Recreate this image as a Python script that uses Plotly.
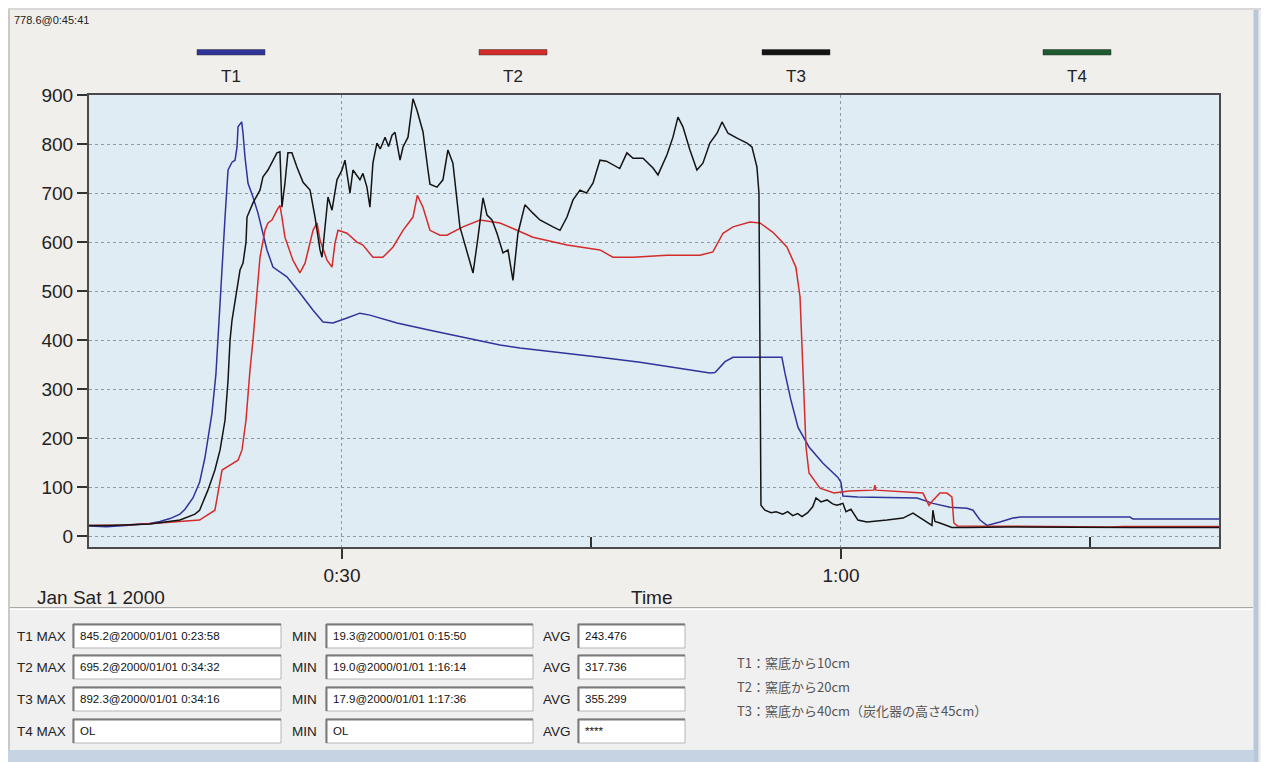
import plotly.graph_objects as go

# ---------------- data (time in minutes after 0:00, temperature) ----------------
T1_POINTS = [
    (14.79, 21), (15.83, 19.3), (17.00, 22), (18.46, 26), (19.06, 30), (19.66, 36),
    (20.26, 45), (20.56, 55), (21.04, 78), (21.44, 110), (21.76, 160), (22.04, 220),
    (22.18, 250), (22.42, 330), (22.54, 400), (22.79, 569), (22.97, 651), (23.15, 747),
    (23.39, 763), (23.57, 767), (23.69, 794), (23.75, 835), (23.97, 845.2), (24.05, 822),
    (24.17, 773), (24.35, 720), (24.65, 692), (24.95, 659), (25.19, 624), (25.49, 584),
    (25.85, 549), (26.69, 529), (27.47, 496), (28.26, 461), (28.86, 437), (29.46, 435),
    (30.30, 445), (31.08, 455), (31.68, 451), (33.31, 435), (35.29, 420), (37.27, 406),
    (38.30, 398), (39.50, 390), (40.70, 384), (43.11, 375), (45.51, 365), (47.92, 355),
    (50.32, 343), (51.52, 336), (52.12, 333), (52.43, 334), (52.85, 350), (53.03, 356),
    (53.51, 365), (56.45, 365), (56.63, 333), (56.99, 278), (57.42, 222), (58.08, 182),
    (58.92, 149), (59.82, 120), (60.00, 110), (60.06, 88), (60.12, 82), (61.00, 80),
    (64.57, 78), (65.53, 67), (66.55, 59), (67.58, 57), (67.94, 53), (68.36, 33),
    (68.78, 22), (69.56, 29), (70.34, 37), (70.76, 39), (77.38, 39), (77.56, 35),
    (82.73, 35),
]

T2_POINTS = [
    (14.79, 22), (17.00, 23), (19.00, 27), (20.26, 30), (21.44, 33), (22.36, 53),
    (22.79, 135), (23.27, 145), (23.75, 155), (23.99, 176), (24.23, 237), (24.47, 339),
    (24.65, 400), (25.07, 569), (25.37, 624), (25.55, 639), (25.79, 645), (26.09, 665),
    (26.27, 675), (26.39, 651), (26.57, 610), (27.05, 563), (27.47, 537), (27.78, 557),
    (28.26, 624), (28.50, 639), (28.68, 604), (29.10, 563), (29.40, 549), (29.58, 598),
    (29.76, 624), (30.30, 618), (30.90, 600), (31.26, 594), (31.86, 569), (32.46, 569),
    (33.07, 590), (33.67, 624), (34.27, 651), (34.53, 695.2), (34.87, 671), (35.29, 624),
    (35.89, 614), (36.31, 614), (37.27, 631), (38.30, 645), (39.50, 639), (40.52, 624),
    (41.48, 610), (43.53, 594), (45.51, 584), (46.29, 569), (47.50, 569), (49.54, 573),
    (51.52, 573), (52.30, 580), (52.91, 618), (53.51, 631), (54.53, 641), (55.13, 639),
    (55.91, 620), (56.75, 590), (57.29, 549), (57.54, 488), (57.72, 318), (57.90, 182),
    (58.08, 129), (58.74, 98), (59.58, 88), (60.50, 92), (61.98, 94), (62.04, 104),
    (62.10, 94), (64.63, 90), (64.93, 88), (65.29, 63), (65.50, 72), (65.95, 88),
    (66.37, 88), (66.67, 80), (66.79, 27), (67.00, 21), (70.00, 20), (76.23, 19.0),
    (77.00, 20), (82.73, 20),
]

T3_POINTS = [
    (14.79, 22), (16.00, 22), (18.46, 25), (20.26, 33), (21.16, 45), (21.44, 53),
    (21.94, 94), (22.36, 135), (22.67, 176), (22.97, 237), (23.15, 318), (23.27, 400),
    (23.39, 441), (23.69, 508), (23.87, 543), (24.05, 557), (24.23, 600), (24.29, 651),
    (24.65, 680), (25.07, 706), (25.25, 733), (25.55, 747), (26.09, 782), (26.27, 784),
    (26.39, 671), (26.57, 720), (26.75, 782), (26.99, 782), (27.29, 753), (27.66, 722),
    (28.08, 706), (28.38, 651), (28.68, 584), (28.80, 569), (28.98, 624), (29.16, 692),
    (29.40, 665), (29.70, 727), (30.00, 747), (30.18, 767), (30.30, 740), (30.48, 700),
    (30.66, 747), (31.08, 727), (31.26, 740), (31.50, 712), (31.68, 671), (31.86, 761),
    (32.10, 802), (32.30, 790), (32.59, 814), (32.80, 795), (33.01, 818), (33.19, 824),
    (33.49, 767), (33.67, 794), (33.97, 814), (34.27, 892.3), (34.51, 869), (34.87, 825),
    (35.17, 747), (35.29, 718), (35.71, 712), (36.07, 727), (36.37, 788), (36.67, 761),
    (37.09, 631), (37.52, 578), (37.88, 537), (38.18, 610), (38.48, 690), (38.72, 655),
    (39.02, 645), (39.32, 618), (39.68, 578), (39.98, 584), (40.28, 522), (40.58, 618),
    (41.00, 676), (41.48, 659), (41.90, 645), (42.69, 631), (43.11, 624), (43.53, 651),
    (43.89, 686), (44.31, 706), (44.70, 700), (45.09, 720), (45.51, 767), (45.90, 765),
    (46.29, 757), (46.70, 750), (47.13, 782), (47.50, 771), (48.10, 771), (48.70, 751),
    (49.00, 737), (49.54, 778), (49.90, 814), (50.20, 855), (50.50, 835), (50.92, 788),
    (51.34, 747), (51.70, 761), (52.12, 802), (52.55, 822), (52.85, 845), (53.21, 822),
    (53.75, 812), (54.35, 802), (54.65, 794), (54.95, 753), (55.07, 700), (55.13, 400),
    (55.19, 63), (55.43, 53), (55.80, 48), (56.10, 50), (56.50, 45), (56.80, 50),
    (57.10, 42), (57.40, 46), (57.66, 40), (58.00, 48), (58.30, 60), (58.50, 78),
    (58.80, 70), (59.16, 74), (59.50, 66), (59.76, 63), (60.12, 67), (60.30, 50),
    (60.60, 55), (61.02, 33), (61.56, 29), (62.77, 33), (63.73, 37), (64.33, 47),
    (65.17, 29), (65.47, 22), (65.53, 53), (65.65, 30), (65.95, 27), (66.67, 18),
    (67.58, 18), (70.00, 19), (77.60, 17.9), (82.73, 18),
]

SERIES_NAMES = ["T1", "T2", "T3", "T4"]
SERIES_COLORS = ["#30339a", "#d42b2b", "#141414", "#1d5a30"]
SERIES_DATA = [T1_POINTS, T2_POINTS, T3_POINTS, []]

Y_TICKS = list(range(0, 901, 100))
X_TICK_VALS = [30, 60]
X_TICK_TEXT = ["0:30", "1:00"]
X_MINOR_VALS = [45, 75]
X_RANGE = [14.79, 82.73]
Y_RANGE = [-22, 900]

CURSOR_TEXT = "778.6@0:45:41"
DATE_TEXT = "Jan Sat 1 2000"
X_TITLE = "Time"

STATS_ROWS = [
    ("T1 MAX", "845.2@2000/01/01 0:23:58", "19.3@2000/01/01 0:15:50", "243.476"),
    ("T2 MAX", "695.2@2000/01/01 0:34:32", "19.0@2000/01/01 1:16:14", "317.736"),
    ("T3 MAX", "892.3@2000/01/01 0:34:16", "17.9@2000/01/01 1:17:36", "355.299"),
    ("T4 MAX", "OL", "OL", "****"),
]
NOTES = [
    "T1：窯底から10cm",
    "T2：窯底から20cm",
    "T3：窯底から40cm（炭化器の高さ45cm）",
]

# ---------------- layout geometry (window pixels) ----------------
OFF = 8                      # page body margin of the html page
WIN_W, WIN_H = 1269, 762
W, H = WIN_W - OFF, WIN_H - OFF
PL, PR, PT, PB = 89, 1219, 95, 547   # plot area edges in window pixels
FONT = "Liberation Sans, Arial, sans-serif"
NARROW = "Liberation Sans Narrow, Liberation Sans, Arial, sans-serif"


def px(x):
    return (x - PL) / (PR - PL)


def py(y):
    return (PB - y) / (PB - PT)


fig = go.Figure()
for name, color, pts in zip(SERIES_NAMES, SERIES_COLORS, SERIES_DATA):
    if not pts:
        continue
    fig.add_trace(go.Scatter(
        x=[p[0] for p in pts], y=[p[1] for p in pts], mode="lines", name=name,
        line=dict(color=color, width=1.5), showlegend=False,
    ))

shapes = []
annotations = []


def rect(x0, y0, x1, y1, fill, line_color=None, lw=0):
    shapes.append(dict(type="rect", xref="paper", yref="paper",
                       x0=px(x0), x1=px(x1), y0=py(y0), y1=py(y1),
                       fillcolor=fill, line=dict(color=line_color or fill, width=lw),
                       layer="above"))


def hline(x0, x1, y, color, w=1):
    shapes.append(dict(type="line", xref="paper", yref="paper",
                       x0=px(x0), x1=px(x1), y0=py(y), y1=py(y),
                       line=dict(color=color, width=w)))


def vline(x, y0, y1, color, w=1):
    shapes.append(dict(type="line", xref="paper", yref="paper",
                       x0=px(x), x1=px(x), y0=py(y0), y1=py(y1),
                       line=dict(color=color, width=w)))


def text(x, y, s, size, color="#222", anchor="left", family=FONT):
    annotations.append(dict(xref="paper", yref="paper", x=px(x), y=py(y), text=s,
                            showarrow=False, xanchor=anchor, yanchor="middle",
                            font=dict(size=size, color=color, family=family)))


# window frame
vline(9, 8, 762, "#c9c9c9", 2)
vline(1256, 8, 762, "#b9c7d8", 5)
hline(8, 1269, 9, "#d8d8d8", 2)

# legend (line above label)
legend_x = [231, 513, 796, 1077]
for cx, name, color in zip(legend_x, SERIES_NAMES, SERIES_COLORS):
    rect(cx - 34, 49.5, cx + 34, 55, color, "#333333", 0.5)
    text(cx, 76, name, 17, "#222", "center")

# top-left cursor readout
text(12, 20, CURSOR_TEXT, 11, "#222", "left", NARROW)

# axis captions
text(35, 597, DATE_TEXT, 19, "#222", "left")
text(652, 597, X_TITLE, 19, "#222", "center")

# bottom statistics panel
rect(10, 608, 1253, 750, "#f0f0f0")
hline(10, 1253, 607.5, "#a8a8a8", 1)
hline(10, 1253, 609.5, "#ffffff", 1)
rect(8, 750, 1254, 762, "#c6d3e3")

row_y = [636, 667, 699, 731]
box_cols = [(73, 281), (326, 533), (578, 685)]
for (label, mx, mn, avg), yc in zip(STATS_ROWS, row_y):
    text(68, yc, label, 13.5, "#222", "right", NARROW)
    text(304, yc, "MIN", 13.5, "#222", "center", NARROW)
    text(557, yc, "AVG", 13.5, "#222", "center", NARROW)
    for (x0, x1), val in zip(box_cols, (mx, mn, avg)):
        rect(x0, yc - 12, x1, yc + 12, "#ffffff", "#b5b5b5", 1)
        hline(x0, x1, yc - 11.5, "#7a7a7a", 2)
        vline(x0 + 0.5, yc - 12, yc + 12, "#7a7a7a", 2)
        text(x0 + 5, yc, val, 11.5, "#111", "left", NARROW)

for i, note in enumerate(NOTES):
    text(735, 662 + 24 * i, note, 13, "#555",
         "left", "Noto Sans CJK JP, Noto Sans, sans-serif")

fig.update_layout(
    width=W, height=H,
    margin=dict(l=PL - OFF, r=WIN_W - PR, t=PT - OFF, b=WIN_H - PB, pad=0),
    paper_bgcolor="#f1efeb",
    plot_bgcolor="#e0ecf3",
    showlegend=False,
    shapes=shapes,
    annotations=annotations,
    font=dict(family=FONT, color="#222"),
    xaxis=dict(
        range=X_RANGE, tickvals=X_TICK_VALS, ticktext=X_TICK_TEXT,
        ticks="outside", ticklen=10, tickwidth=1.5, tickcolor="#333",
        tickfont=dict(size=19, color="#222", family=FONT),
        showline=True, linecolor="#4a4a4a", linewidth=2, mirror=True,
        showgrid=True, gridcolor="#8e9ba6", griddash="dot", gridwidth=1,
        zeroline=False,
        minor=dict(tickvals=X_MINOR_VALS, ticks="inside", ticklen=10,
                   tickwidth=1.5, tickcolor="#333", showgrid=False),
    ),
    yaxis=dict(
        range=Y_RANGE, tickvals=Y_TICKS,
        ticks="outside", ticklen=10, tickwidth=1.5, tickcolor="#333",
        tickfont=dict(size=19, color="#222", family=FONT),
        showline=True, linecolor="#4a4a4a", linewidth=2, mirror=True,
        showgrid=True, gridcolor="#8e9ba6", griddash="dot", gridwidth=1,
        zeroline=False,
    ),
)

fig.write_html("out.html")
